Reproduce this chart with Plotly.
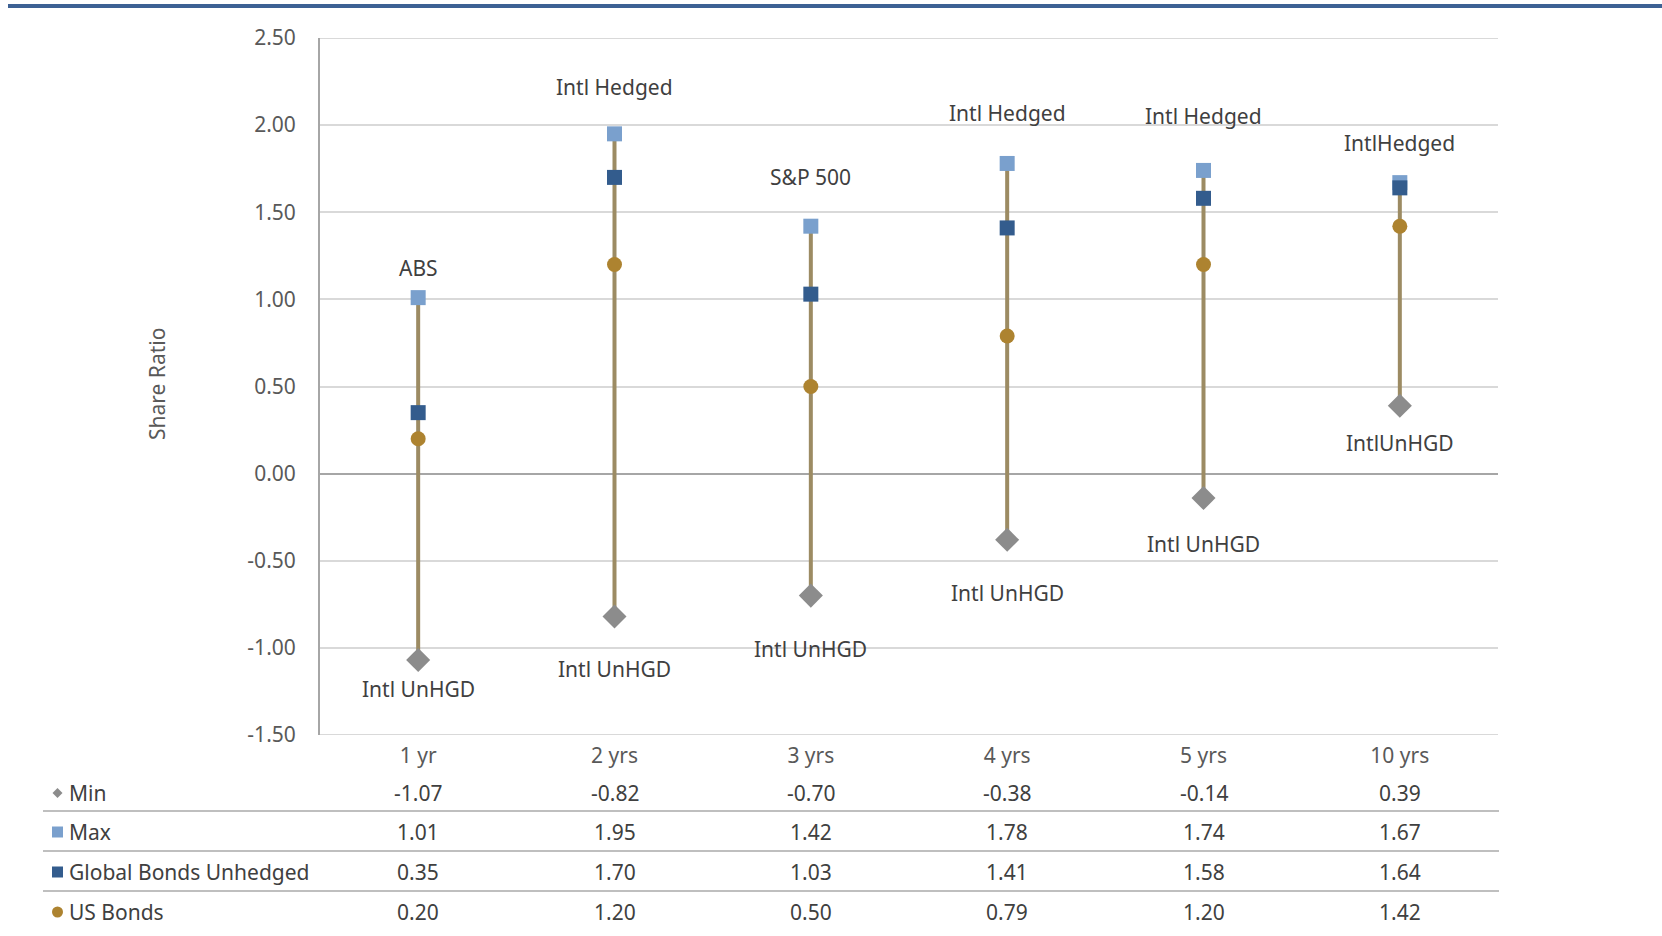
import plotly.graph_objects as go

# ---------------- data ----------------
periods = ["1 yr", "2 yrs", "3 yrs", "4 yrs", "5 yrs", "10 yrs"]
min_vals = [-1.07, -0.82, -0.70, -0.38, -0.14, 0.39]
max_vals = [1.01, 1.95, 1.42, 1.78, 1.74, 1.67]
global_bonds_unhedged = [0.35, 1.70, 1.03, 1.41, 1.58, 1.64]
us_bonds = [0.20, 1.20, 0.50, 0.79, 1.20, 1.42]
max_labels = ["ABS", "Intl Hedged", "S&P 500", "Intl Hedged", "Intl Hedged", "IntlHedged"]
min_labels = ["Intl UnHGD", "Intl UnHGD", "Intl UnHGD", "Intl UnHGD", "Intl UnHGD", "IntlUnHGD"]
series_names = ["Min", "Max", "Global Bonds Unhedged", "US Bonds"]
y_ticks = [-1.5, -1.0, -0.5, 0.0, 0.5, 1.0, 1.5, 2.0, 2.5]
y_tick_text = ["-1.50", "-1.00", "-0.50", "0.00", "0.50", "1.00", "1.50", "2.00", "2.50"]

# ---------------- styles / layout ----------------
W, H = 1662, 936
L, R, T, B = 320, 164, 38, 201
PW, PH = W - L - R, H - T - B
FONT = "Noto Sans"
C_MIN = "#8c8c8c"
C_MAX = "#7aa0cd"
C_GLB = "#335c8d"
C_US = "#ad8330"
C_LINE = "#9c8b63"
TXT = "#404040"
TICK = "#595959"
GRID = "#d9d9d9"

top_label_shift = [30, 47, 49, 50, 54, 40]
bot_label_shift = [29, 52, 53, 53, 46, 37]
row_py = [793, 832, 872, 912]
sep_py = [811, 851, 891]


def px_x(px):
    return (px - L) / PW


def px_y(py):
    return (H - B - py) / PH


fig = go.Figure()

# high-low line
lx, ly = [], []
for p, lo, hi in zip(periods, min_vals, max_vals):
    lx += [p, p, None]
    ly += [lo, hi, None]
fig.add_trace(go.Scatter(x=lx, y=ly, mode="lines", line=dict(color=C_LINE, width=4),
                         hoverinfo="skip", showlegend=False))

fig.add_trace(go.Scatter(x=periods, y=min_vals, mode="markers", name="Min",
                         marker=dict(symbol="diamond", size=18.5, color=C_MIN), showlegend=False))
fig.add_trace(go.Scatter(x=periods, y=max_vals, mode="markers", name="Max",
                         marker=dict(symbol="square", size=15, color=C_MAX), showlegend=False))
fig.add_trace(go.Scatter(x=periods, y=global_bonds_unhedged, mode="markers", name="Global Bonds Unhedged",
                         marker=dict(symbol="square", size=15, color=C_GLB), showlegend=False))
fig.add_trace(go.Scatter(x=periods, y=us_bonds, mode="markers", name="US Bonds",
                         marker=dict(symbol="circle", size=15, color=C_US), showlegend=False))

annotations = []
# point labels
for i, p in enumerate(periods):
    annotations.append(dict(x=p, y=max_vals[i], xref="x", yref="y", text=max_labels[i],
                            showarrow=False, yshift=top_label_shift[i],
                            font=dict(family=FONT, size=21, color=TXT)))
    annotations.append(dict(x=p, y=min_vals[i], xref="x", yref="y", text=min_labels[i],
                            showarrow=False, yshift=-bot_label_shift[i],
                            font=dict(family=FONT, size=21, color=TXT)))

# data table
table_rows = [min_vals, max_vals, global_bonds_unhedged, us_bonds]
for r, (name, vals) in enumerate(zip(series_names, table_rows)):
    annotations.append(dict(x=px_x(67), y=px_y(row_py[r]), xref="paper", yref="paper",
                            text=name, showarrow=False, xanchor="left", yanchor="middle",
                            font=dict(family=FONT, size=21, color=TXT)))
    for p, v in zip(periods, vals):
        annotations.append(dict(x=p, y=px_y(row_py[r]), xref="x", yref="paper",
                                text=f"{v:.2f}", showarrow=False, yanchor="middle",
                                font=dict(family=FONT, size=21, color=TXT)))

# y-axis title
annotations.append(dict(x=px_x(157), y=px_y(384), xref="paper", yref="paper", text="Share Ratio",
                        textangle=-90, showarrow=False, xanchor="center", yanchor="middle",
                        font=dict(family=FONT, size=21, color=TICK)))

shapes = []
# edge gridlines (top and bottom of the value axis)
for gy in (y_ticks[0], y_ticks[-1]):
    shapes.append(dict(type="line", xref="paper", yref="y", x0=0, x1=1, y0=gy, y1=gy,
                       line=dict(color=GRID, width=2), layer="below"))
# top banner line
shapes.append(dict(type="rect", xref="paper", yref="paper", x0=px_x(8), x1=px_x(W),
                   y0=px_y(8), y1=px_y(4), fillcolor="#3d6194", line=dict(width=0), layer="above"))
# table separators
for sy in sep_py:
    shapes.append(dict(type="line", xref="paper", yref="paper", x0=px_x(43), x1=px_x(1499),
                       y0=px_y(sy), y1=px_y(sy), line=dict(color="#bfbfbf", width=2)))
# legend keys in table
kx = 57.5
ky = row_py[0]
shapes.append(dict(type="path", xref="paper", yref="paper",
                   path=f"M {px_x(kx-5)},{px_y(ky)} L {px_x(kx)},{px_y(ky-5)} L {px_x(kx+5)},{px_y(ky)} L {px_x(kx)},{px_y(ky+5)} Z",
                   fillcolor=C_MIN, line=dict(width=0)))
for r, col in [(1, C_MAX), (2, C_GLB)]:
    shapes.append(dict(type="rect", xref="paper", yref="paper", x0=px_x(kx - 5.5), x1=px_x(kx + 5.5),
                       y0=px_y(row_py[r] + 5.5), y1=px_y(row_py[r] - 5.5), fillcolor=col, line=dict(width=0)))
shapes.append(dict(type="circle", xref="paper", yref="paper", x0=px_x(kx - 5.5), x1=px_x(kx + 5.5),
                   y0=px_y(row_py[3] + 5.5), y1=px_y(row_py[3] - 5.5), fillcolor=C_US, line=dict(width=0)))

fig.update_layout(
    width=W, height=H,
    margin=dict(l=L, r=R, t=T, b=B, pad=0),
    paper_bgcolor="white", plot_bgcolor="white",
    showlegend=False,
    font=dict(family=FONT, size=21, color=TICK),
    annotations=annotations,
    shapes=shapes,
    xaxis=dict(type="category", categoryorder="array", categoryarray=periods,
               range=[-0.5, len(periods) - 0.5], showgrid=False, showline=False, zeroline=False,
               ticks="", ticklabelstandoff=6, tickfont=dict(family=FONT, size=21, color=TICK)),
    yaxis=dict(range=[y_ticks[0], y_ticks[-1]], tickvals=y_ticks, ticktext=y_tick_text,
               showgrid=True, gridcolor=GRID, gridwidth=2,
               zeroline=True, zerolinecolor="#a6a6a6", zerolinewidth=2,
               showline=True, linecolor="#a6a6a6", linewidth=2,
               ticks="", ticklabelstandoff=18, tickfont=dict(family=FONT, size=21, color=TICK)),
)

fig.write_html("out.html", config={"displayModeBar": False},
               post_script="document.body.style.margin='0';")
